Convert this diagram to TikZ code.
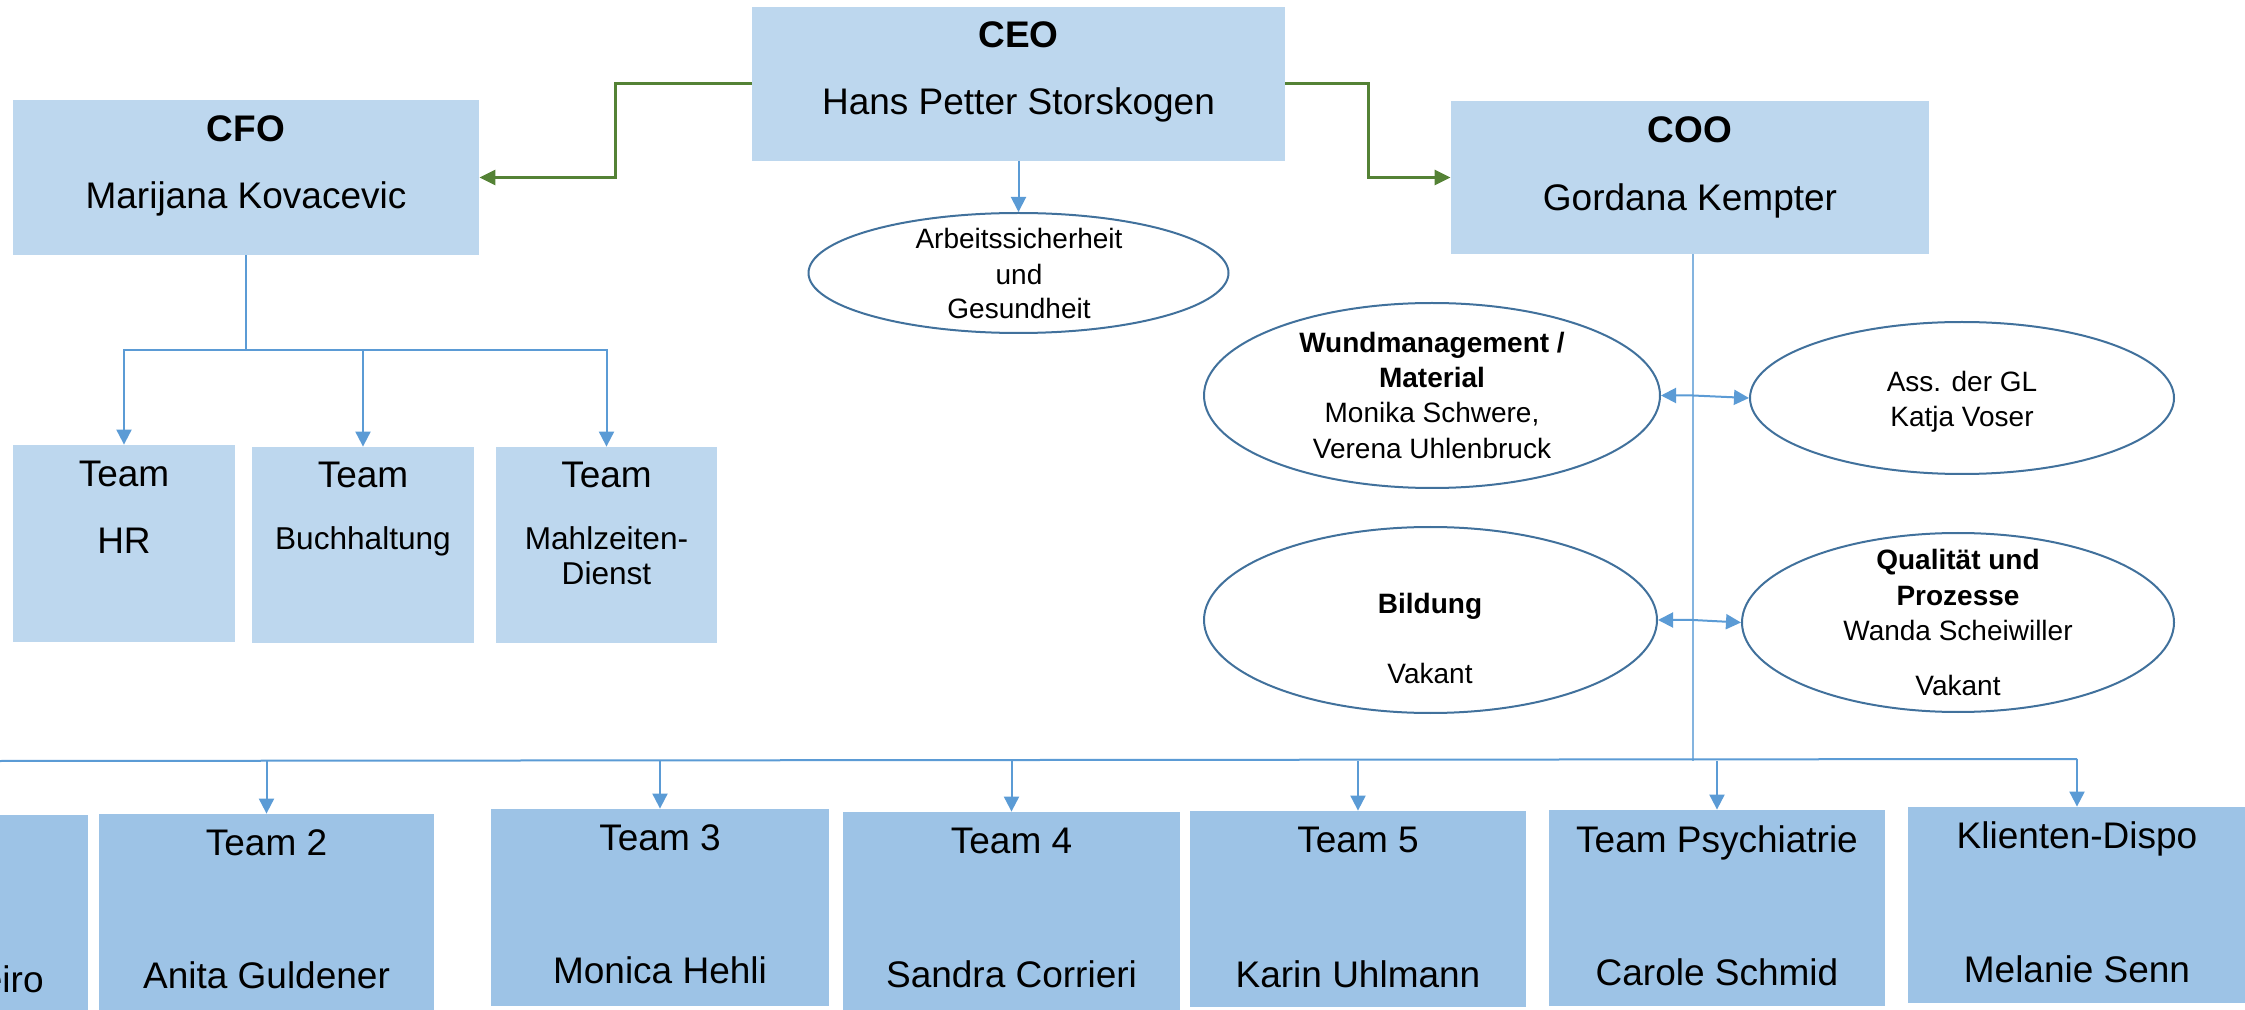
\documentclass[tikz,border=0pt]{standalone}
\usepackage{fontspec}
\setmainfont{Liberation Sans}
\usetikzlibrary{arrows.meta,shapes.geometric,calc}
\definecolor{boxlight}{HTML}{BDD7EE}
\definecolor{boxdark}{HTML}{9DC3E6}
\definecolor{connblue}{HTML}{5B9BD5}
\definecolor{orggreen}{HTML}{548235}
\definecolor{ovalline}{HTML}{41719C}
\begin{document}
\begin{tikzpicture}[x=0.5pt,y=-0.5pt,
  topbox/.style={fill=boxlight,draw=none,inner sep=0pt},
  botbox/.style={fill=boxdark,draw=none,inner sep=0pt},
  oval/.style={ellipse,draw=ovalline,line width=1pt,fill=white,inner sep=0pt},
  conn/.style={draw=connblue,line width=1pt},
  connarrow/.style={conn,-{Triangle[length=7.5pt,width=7.5pt]}},
  dblarrow/.style={conn,{Triangle[length=7.5pt,width=7.5pt]}-{Triangle[length=7.5pt,width=7.5pt]}},
  thinline/.style={draw=connblue!75,line width=0.7pt},
  greenarrow/.style={draw=orggreen,line width=1.5pt,-{Triangle[length=8pt,width=7.5pt]}},
  bigtxt/.style={anchor=base,inner sep=0pt,font=\fontsize{18.5}{22}\selectfont},
  bigbold/.style={bigtxt,font=\fontsize{18.5}{22}\selectfont\bfseries},
  midtxt/.style={anchor=base,inner sep=0pt,font=\fontsize{15.8}{19}\selectfont},
  smalltxt/.style={anchor=base,inner sep=0pt,font=\fontsize{14}{17}\selectfont},
  smallbold/.style={smalltxt,font=\fontsize{14}{17}\selectfont\bfseries}
]
\useasboundingbox (0,0) rectangle (2245,1010);

% top level boxes
\node[topbox,minimum width=266.5pt,minimum height=77pt] (ceo) at (1018.5,84) {};
\node[topbox,minimum width=233pt,minimum height=77.5pt] (cfo) at (246,177.5) {};
\node[topbox,minimum width=239pt,minimum height=76.5pt] (coo) at (1690,177.5) {};

\node[bigbold] (ceo-t) at (1018.5,48) {CEO};
\node[bigtxt] (ceo-n) at (1018.5,115) {Hans Petter Storskogen};
\node[bigbold] (cfo-t) at (246,142) {CFO};
\node[bigtxt] (cfo-n) at (246,209) {Marijana Kovacevic};
\node[bigbold] (coo-t) at (1690,143) {COO};
\node[bigtxt] (coo-n) at (1690,211) {Gordana Kempter};

% CFO teams
\node[topbox,minimum width=111pt,minimum height=98.5pt] (hr) at (124,543.5) {};
\node[topbox,minimum width=111pt,minimum height=98pt] (buch) at (363,545) {};
\node[topbox,minimum width=110.5pt,minimum height=98pt] (mahl) at (606.5,545) {};
\node[bigtxt] (hr-t) at (124,487) {Team};
\node[bigtxt] (hr-n) at (124,553) {HR};
\node[bigtxt] (buch-t) at (363,488) {Team};
\node[midtxt] (buch-n) at (363,550) {Buchhaltung};
\node[bigtxt] (mahl-t) at (606.5,488) {Team};
\node[midtxt] (mahl-n1) at (606.5,550) {Mahlzeiten-};
\node[midtxt] (mahl-n2) at (606.5,585) {Dienst};

% ellipses
\node[oval,minimum width=210pt,minimum height=60pt] (arb) at (1018.5,273) {};
\node[smalltxt] (arb-1) at (1019,249) {Arbeitssicherheit};
\node[smalltxt] (arb-2) at (1019,285) {und};
\node[smalltxt] (arb-3) at (1019,319) {Gesundheit};

\node[oval,minimum width=228pt,minimum height=92.5pt] (wund) at (1432,395.5) {};
\node[smallbold] (wund-1) at (1432,353) {Wundmanagement /};
\node[smallbold] (wund-2) at (1432,388) {Material};
\node[smalltxt] (wund-3) at (1432,423) {Monika Schwere,};
\node[smalltxt] (wund-4) at (1432,459) {Verena Uhlenbruck};

\node[oval,minimum width=212pt,minimum height=76pt] (ass) at (1962,398) {};
\node[smalltxt] (ass-1) at (1962,392) {Ass. der GL};
\node[smalltxt] (ass-2) at (1962,427) {Katja Voser};

\node[oval,minimum width=226.5pt,minimum height=93pt] (bild) at (1430.5,620) {};
\node[smallbold] (bild-1) at (1430,613) {Bildung};
\node[smalltxt] (bild-2) at (1430,683) {Vakant};

\node[oval,minimum width=216pt,minimum height=89.5pt] (qual) at (1958,622.5) {};
\node[smallbold] (qual-1) at (1958,570) {Qualität und};
\node[smallbold] (qual-2) at (1958,605) {Prozesse};
\node[smalltxt] (qual-3) at (1958,640) {Wanda Scheiwiller};
\node[smalltxt] (qual-4) at (1958,695) {Vakant};

% bottom teams
\node[botbox,minimum width=168pt,minimum height=100pt] (team1) at (-80,915) {};
\node[bigtxt,anchor=base east] (team1-n) at (44,992) {eiro};
\node[botbox,minimum width=167.5pt,minimum height=100pt] (team2) at (266.5,914) {};
\node[bigtxt] (team2-t) at (266.5,855) {Team 2};
\node[bigtxt] (team2-n) at (266.5,988) {Anita Guldener};
\node[botbox,minimum width=169pt,minimum height=98.5pt] (team3) at (660,907.5) {};
\node[bigtxt] (team3-t) at (660,850) {Team 3};
\node[bigtxt] (team3-n) at (660,983) {Monica Hehli};
\node[botbox,minimum width=168.5pt,minimum height=100pt] (team4) at (1011.5,912) {};
\node[bigtxt] (team4-t) at (1011.5,853) {Team 4};
\node[bigtxt] (team4-n) at (1011.5,987) {Sandra Corrieri};
\node[botbox,minimum width=168pt,minimum height=98pt] (team5) at (1358,909) {};
\node[bigtxt] (team5-t) at (1358,852) {Team 5};
\node[bigtxt] (team5-n) at (1358,987) {Karin Uhlmann};
\node[botbox,minimum width=168pt,minimum height=98pt] (psych) at (1717,908) {};
\node[bigtxt] (psych-t) at (1717,852) {Team Psychiatrie};
\node[bigtxt] (psych-n) at (1717,985) {Carole Schmid};
\node[botbox,minimum width=170pt,minimum height=98pt] (klient) at (2078,905) {};
\node[bigtxt] (klient-t) at (2077,848) {Klienten-Dispo};
\node[bigtxt] (klient-n) at (2077,982) {Melanie Senn};

% connectors
\draw[greenarrow] (ceo.west) -| ($(ceo.west)!.5!(cfo.east)$) |- (cfo.east);
\draw[greenarrow] (ceo.east) -| ($(ceo.east)!.5!(coo.west)$) |- (coo.west);
\draw[connarrow] (ceo.south) -- (arb.north);

\coordinate (cfoj) at (246,350);
\draw[conn] (cfo.south) -- (cfoj);
\draw[connarrow] (cfoj) -| (hr.north);
\draw[connarrow] (cfoj) -| (buch.north);
\draw[connarrow] (cfoj) -| (mahl.north);

\coordinate (cooj) at (1693,761);
\draw[thinline] (coo.south -| cooj) -- (cooj);
\coordinate (hl) at (0,761);
\coordinate (hr2) at (2077,759);
\draw[conn] (hl) -- (hr2);
\draw[connarrow] (team2.north |- hl) -- (team2.north);
\draw[connarrow] (team3.north |- hl) -- (team3.north);
\draw[connarrow] (team4.north |- hl) -- (team4.north);
\draw[connarrow] (team5.north |- hl) -- (team5.north);
\draw[connarrow] (psych.north |- hl) -- (psych.north);
\draw[connarrow] (hr2) -- (klient.north -| hr2);

\draw[dblarrow] (wund.east) -- (cooj |- wund.east) -- (ass.west);
\draw[dblarrow] (bild.east) -- (cooj |- bild.east) -- (qual.west);
\end{tikzpicture}
\end{document}
